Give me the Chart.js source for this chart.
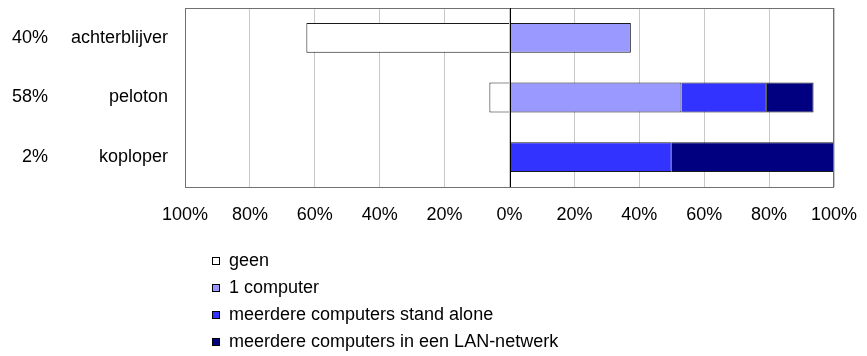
<!DOCTYPE html>
<html>
<head>
<meta charset="utf-8">
<script src="https://cdn.jsdelivr.net/npm/chart.js@4/dist/chart.umd.min.js"></script>
<style>
  body { margin: 0; background: #fff; }
  canvas { display: block; }
</style>
</head>
<body>
<canvas id="chart" width="867" height="356"></canvas>
<script>
// groepen en hun aandeel
let categories = ['achterblijver', 'peloton', 'koploper'];
let shares = ['40%', '58%', '2%'];

// series (geen staat links van 0); null = geen segment
let geen = [-62.6, -6.2, null];
let eenComputer = [37.4, 53.0, null];
let standAlone = [null, 26.3, 50.0];
let lanNetwerk = [null, 14.4, 50.0];

let xTickLabels = ['100%', '80%', '60%', '40%', '20%', '0%', '20%', '40%', '60%', '80%', '100%'];

Chart.defaults.font.family = '"Liberation Sans", Arial, sans-serif';
Chart.defaults.font.size = 18;
Chart.defaults.color = '#000';

// geen extra ruimte door de labels van de assen
function noPadding(scale) {
    scale.paddingTop = 0;
    scale.paddingBottom = 0;
    scale.paddingLeft = 0;
    scale.paddingRight = 0;
}

// extra tekst links, kader, nullijn en legenda onderaan
let extras = {
    id: 'extras',
    afterDraw(chart) {
        let ctx = chart.ctx;
        let area = chart.chartArea;
        let yScale = chart.scales.y;
        let x0 = Math.round(chart.scales.x.getPixelForValue(0)) + 0.5;
        ctx.save();

        ctx.strokeStyle = '#707070';
        ctx.lineWidth = 1;
        ctx.strokeRect(area.left + 0.5, area.top + 0.5, area.right - area.left - 1, area.bottom - area.top);

        ctx.strokeStyle = '#000';
        ctx.beginPath();
        ctx.moveTo(x0, area.top);
        ctx.lineTo(x0, area.bottom);
        ctx.stroke();

        ctx.font = '18px "Liberation Sans", Arial, sans-serif';
        ctx.fillStyle = '#000';
        ctx.textAlign = 'right';
        ctx.textBaseline = 'middle';
        for (let i = 0; i < shares.length; i++) {
            ctx.fillText(shares[i], 48, yScale.getPixelForValue(i));
        }

        ctx.textAlign = 'left';
        chart.data.datasets.forEach((ds, i) => {
            let y = 261 + i * 27;
            ctx.fillStyle = ds.backgroundColor;
            ctx.fillRect(212.5, y - 3.5, 7, 7);
            ctx.strokeStyle = '#000';
            ctx.strokeRect(212.5, y - 3.5, 7, 7);
            ctx.fillStyle = '#000';
            ctx.fillText(ds.label, 229, y);
        });
        ctx.restore();
    }
};

new Chart(document.getElementById('chart').getContext('2d'), {
    type: 'bar',
    data: {
        labels: categories,
        datasets: [
            { label: 'geen', data: geen, backgroundColor: '#ffffff' },
            { label: '1 computer', data: eenComputer, backgroundColor: '#9999ff' },
            { label: 'meerdere computers stand alone', data: standAlone, backgroundColor: '#3333ff' },
            { label: 'meerdere computers in een LAN-netwerk', data: lanNetwerk, backgroundColor: '#000080' }
        ].map(ds => Object.assign(ds, {
            borderColor: '#1a1a1a',
            borderWidth: 1,
            borderSkipped: 'start',
            barPercentage: 0.5,
            categoryPercentage: 1
        }))
    },
    options: {
        responsive: false,
        animation: false,
        indexAxis: 'y',
        layout: { padding: { left: 0, top: 8, right: 33, bottom: 129 } },
        plugins: {
            legend: { display: false },
            tooltip: { enabled: false }
        },
        scales: {
            x: {
                stacked: true,
                min: -100,
                max: 100,
                border: { display: false },
                grid: {
                    drawTicks: false,
                    color: '#c8c8c8',
                    borderDash: [2, 1]
                },
                ticks: {
                    stepSize: 20,
                    padding: 17,
                    maxRotation: 0,
                    callback: (v, i) => xTickLabels[i]
                },
                afterFit(scale) {
                    scale.height = 40;
                    noPadding(scale);
                }
            },
            y: {
                stacked: true,
                border: { display: false },
                grid: { display: false, drawTicks: false },
                ticks: { padding: 17 },
                afterFit(scale) {
                    scale.width = 185;
                    noPadding(scale);
                }
            }
        }
    },
    plugins: [extras]
});
</script>
</body>
</html>
